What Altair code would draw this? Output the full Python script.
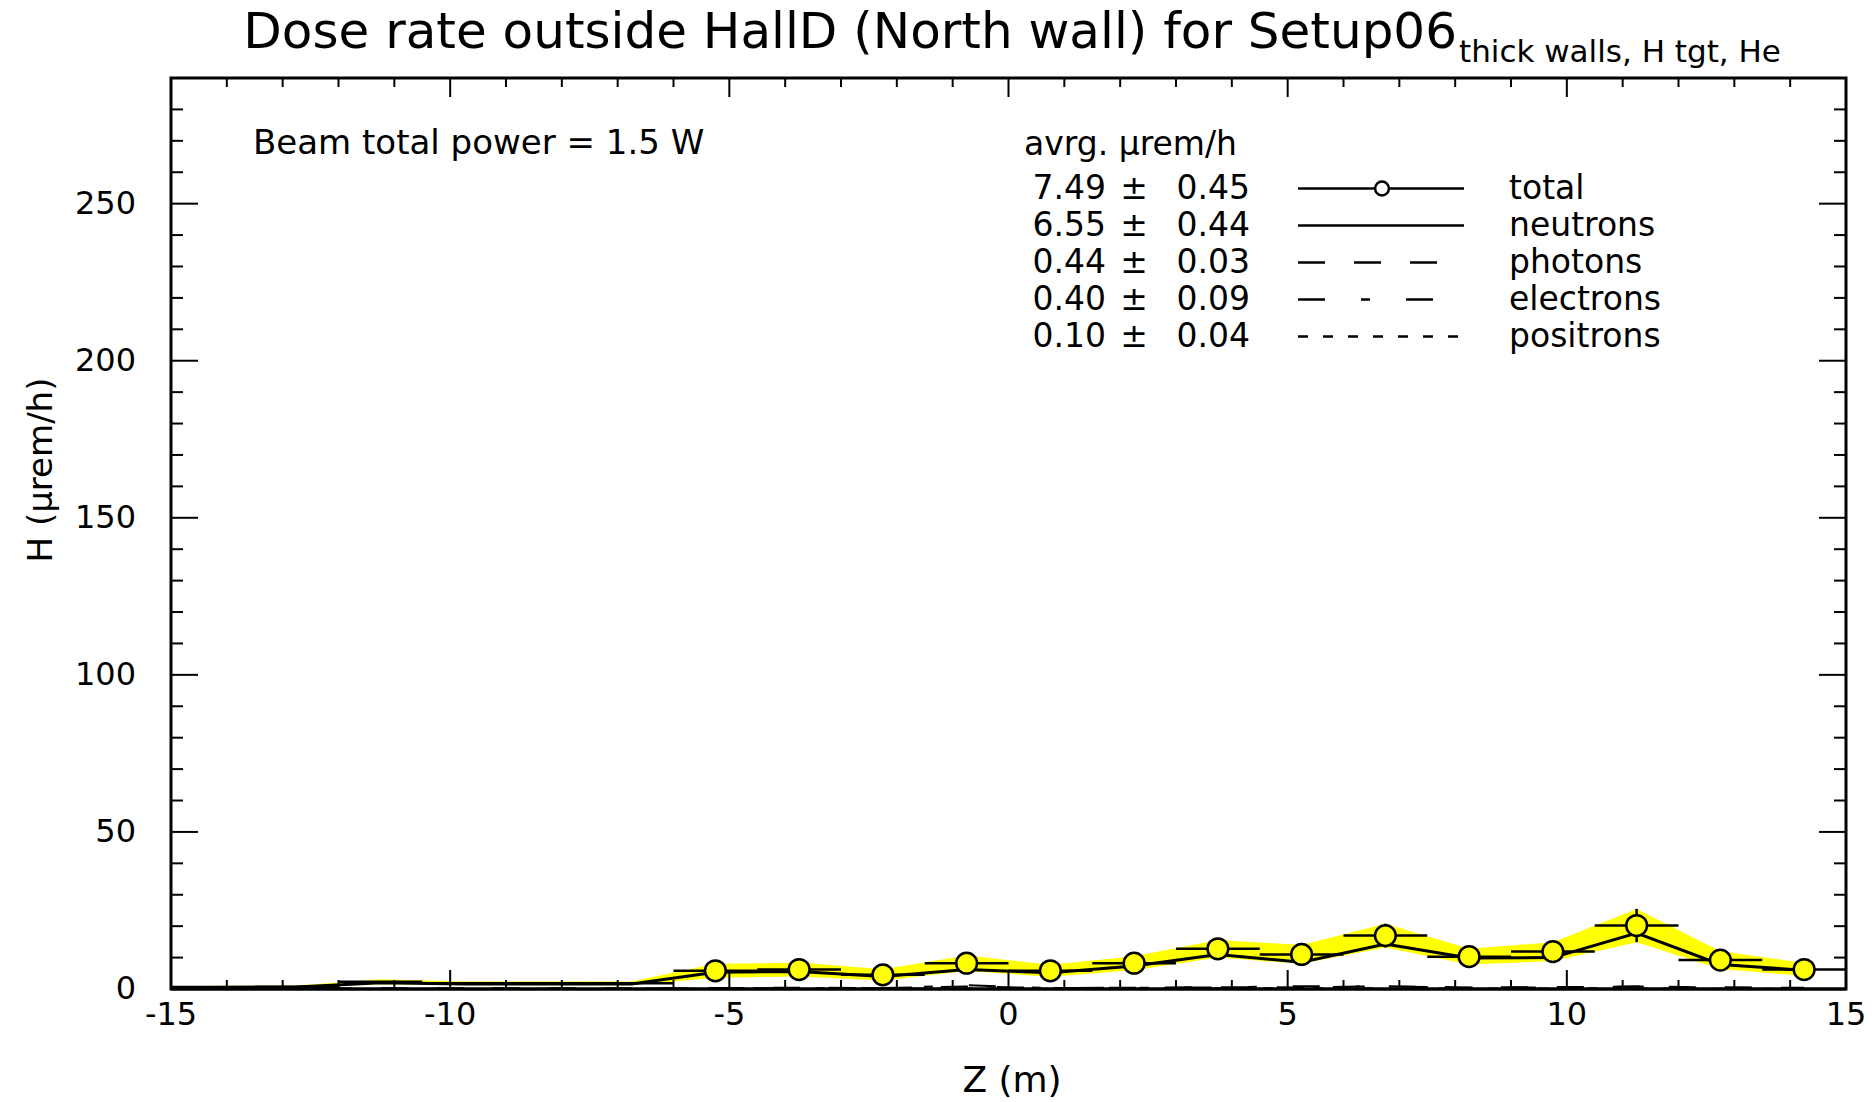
import altair as alt
import pandas as pd

# Bin centres along the beam line (m) and dose rates (µrem/h)
z = [-14.25, -12.75, -11.25, -9.75, -8.25, -6.75, -5.25, -3.75, -2.25, -0.75,
     0.75, 2.25, 3.75, 5.25, 6.75, 8.25, 9.75, 11.25, 12.75, 14.25]
total = [0.6, 0.7, 2.3, 1.8, 1.8, 1.8, 5.8, 6.2, 4.5, 8.2,
         5.8, 8.2, 12.8, 11.0, 17.0, 10.3, 11.9, 20.2, 9.2, 6.2]
total_err = [0.4, 0.4, 0.8, 0.6, 0.6, 0.6, 2.2, 2.2, 1.8, 2.5,
             1.9, 2.2, 2.8, 3.0, 3.8, 2.5, 3.0, 5.3, 2.8, 2.1]
neutrons = [0.5, 0.6, 2.0, 1.6, 1.6, 1.6, 5.3, 5.6, 4.0, 6.2,
            5.2, 7.3, 11.0, 8.5, 14.3, 9.9, 10.0, 17.8, 7.8, 6.0]
photons = [0.1, 0.1, 0.2, 0.2, 0.2, 0.2, 0.3, 0.4, 0.3, 0.8,
           0.3, 0.4, 0.6, 0.5, 0.9, 0.5, 0.6, 0.8, 0.5, 0.4]
electrons = [0.0, 0.0, 0.1, 0.1, 0.1, 0.1, 0.3, 0.2, 0.2, 1.2,
             0.3, 0.4, 0.5, 0.9, 0.8, 0.4, 0.5, 0.8, 0.5, 0.3]
positrons = [0.0, 0.0, 0.0, 0.0, 0.0, 0.0, 0.1, 0.1, 0.1, 0.2,
             0.1, 0.1, 0.2, 0.2, 0.2, 0.1, 0.2, 0.2, 0.1, 0.1]
BIN_HALF = 0.75
MARKER_FROM = 6  # first bin drawn with a marker

legend_names = ["total", "neutrons", "photons", "electrons", "positrons"]
legend_avg = ["7.49", "6.55", "0.44", "0.40", "0.10"]
legend_err = ["0.45", "0.44", "0.03", "0.09", "0.04"]

x_labels = [-15, -10, -5, 0, 5, 10, 15]
y_labels = [0, 50, 100, 150, 200, 250]
x_ticks_major = [-10, -5, 0, 5, 10]
x_ticks_minor = [-14, -13, -12, -11, -9, -8, -7, -6, -4, -3, -2, -1,
                 1, 2, 3, 4, 6, 7, 8, 9, 11, 12, 13, 14]
y_ticks_major = [50, 100, 150, 200, 250]
y_ticks_minor = [10, 20, 30, 40, 60, 70, 80, 90, 110, 120, 130, 140,
                 160, 170, 180, 190, 210, 220, 230, 240, 260, 270, 280]

TITLE = "Dose rate outside HallD (North wall) for Setup06"
SUBTITLE = "thick walls, H tgt, He"
BEAM_NOTE = "Beam total power = 1.5 W"
X_TITLE = "Z (m)"
Y_TITLE = "H (µrem/h)"

# layout (pixels)
W, H = 1675, 911
FONT = "DejaVu Sans"
YELLOW = "#ffff00"

df = pd.DataFrame({
    "z": z, "total": total, "err": total_err, "neutrons": neutrons,
    "photons": photons, "electrons": electrons, "positrons": positrons,
})
df["lo"] = df["total"] - df["err"]
df["hi"] = df["total"] + df["err"]
df["zlo"] = df["z"] - BIN_HALF
df["zhi"] = df["z"] + BIN_HALF

xs = alt.Scale(domain=[-15, 15], nice=False, zero=False)
ys = alt.Scale(domain=[0, 290], nice=False, zero=False)


def X(field):
    return alt.X(field, type="quantitative", scale=xs, axis=None)


def Y(field):
    return alt.Y(field, type="quantitative", scale=ys, axis=None)


base = alt.Chart(df)

band = base.mark_area(color=YELLOW, opacity=1).encode(
    x=X("z"), y=Y("lo"), y2="hi")

dash_styles = {
    "photons": [27, 29],
    "electrons": [27, 36, 9, 36],
    "positrons": [10, 15],
}
small_lines = [
    base.mark_line(color="black", strokeWidth=2, strokeDash=dash)
    .encode(x=X("z"), y=Y(name))
    for name, dash in dash_styles.items()
]

neutron_line = base.mark_line(color="black", strokeWidth=3).encode(
    x=X("z"), y=Y("neutrons"))

h_bars = base.mark_rule(color="black", strokeWidth=2.5).encode(
    x=X("zlo"), x2="zhi", y=Y("total"))
v_bars = alt.Chart(df.iloc[MARKER_FROM:]).mark_rule(
    color="black", strokeWidth=2.5).encode(x=X("z"), y=Y("lo"), y2="hi")
markers = alt.Chart(df.iloc[MARKER_FROM:]).mark_point(
    shape="circle", filled=True, fill=YELLOW, stroke="black",
    strokeWidth=2.5, size=430, opacity=1).encode(x=X("z"), y=Y("total"))


# inward ticks on all four sides
def x_tick_layers(values, length):
    data = alt.Chart(pd.DataFrame({"v": values}))
    bottom = data.mark_rule(color="black", strokeWidth=2).encode(
        x=X("v"), y=alt.value(H), y2=alt.value(H - length))
    top = data.mark_rule(color="black", strokeWidth=2).encode(
        x=X("v"), y=alt.value(0), y2=alt.value(length))
    return [bottom, top]


def y_tick_layers(values, length):
    data = alt.Chart(pd.DataFrame({"v": values}))
    left = data.mark_rule(color="black", strokeWidth=2).encode(
        y=Y("v"), x=alt.value(0), x2=alt.value(length))
    right = data.mark_rule(color="black", strokeWidth=2).encode(
        y=Y("v"), x=alt.value(W), x2=alt.value(W - length))
    return [left, right]


ticks = (x_tick_layers(x_ticks_major, 19) + x_tick_layers(x_ticks_minor, 9)
         + y_tick_layers(y_ticks_major, 27) + y_tick_layers(y_ticks_minor, 12))

# tick labels placed through the data scales (plain hyphen minus)
x_lab_df = pd.DataFrame({"v": x_labels, "s": [str(v) for v in x_labels]})
y_lab_df = pd.DataFrame({"v": y_labels, "s": [str(v) for v in y_labels]})
x_tick_text = alt.Chart(x_lab_df).mark_text(
    font=FONT, fontSize=32, color="black", align="center", baseline="top"
).encode(x=X("v"), y=alt.value(H + 11), text="s:N")
y_tick_text = alt.Chart(y_lab_df).mark_text(
    font=FONT, fontSize=32, color="black", align="right", baseline="middle"
).encode(y=Y("v"), x=alt.value(-35), text="s:N")

one = pd.DataFrame({"k": [0]})
bottom_line = alt.Chart(one).mark_rule(color="black", strokeWidth=3).encode(
    x=alt.value(0), x2=alt.value(W), y=alt.value(H))


def label(text, x, y, size=33, align="left", baseline="middle", angle=0):
    return alt.Chart(pd.DataFrame({"t": [text]})).mark_text(
        font=FONT, fontSize=size, color="black", align=align,
        baseline=baseline, angle=angle).encode(
        x=alt.value(x), y=alt.value(y), text="t:N")


texts = [
    label(TITLE, 1286, -30, size=50, align="right", baseline="alphabetic"),
    label(SUBTITLE, 1288, -16, size=31, baseline="alphabetic"),
    label(BEAM_NOTE, 82, 66, size=34),
    label("avrg. µrem/h", 853, 67),
    label(X_TITLE, 841, H + 92, size=36, align="center"),
    label(Y_TITLE, -129, 392, size=34, align="center", angle=270),
]

# legend block
ROW0, ROW_STEP = 110.5, 37
legend_layers = []
legend_dashes = [None, None, dash_styles["photons"], dash_styles["electrons"],
                 dash_styles["positrons"]]
for i, (name, avg, err) in enumerate(zip(legend_names, legend_avg, legend_err)):
    ry = ROW0 + ROW_STEP * i
    legend_layers += [
        label(avg, 935, ry, align="right"),
        label("±", 963, ry, align="center"),
        label(err, 1079, ry, align="right"),
        label(name, 1338, ry),
    ]
    rule_kw = dict(color="black", strokeWidth=2.5)
    if legend_dashes[i] is not None:
        rule_kw["strokeDash"] = legend_dashes[i]
    legend_layers.append(
        alt.Chart(one).mark_rule(**rule_kw).encode(
            x=alt.value(1127), x2=alt.value(1293), y=alt.value(ry)))
    if name == "total":
        legend_layers.append(
            alt.Chart(one).mark_point(
                shape="circle", filled=True, fill="white", stroke="black",
                strokeWidth=2.5, size=190, opacity=1).encode(
                x=alt.value(1211), y=alt.value(ry)))

chart = alt.layer(
    band, *small_lines, neutron_line, h_bars, v_bars, markers,
    *ticks, bottom_line, x_tick_text, y_tick_text, *texts, *legend_layers,
).properties(
    width=W, height=H,
    autosize=alt.AutoSizeParams(type="none"),
    padding={"left": 171, "top": 78, "right": 26, "bottom": 113},
    background="white",
).configure_view(stroke="black", strokeWidth=3)

chart.save("out.html", embed_options={"renderer": "svg", "actions": False})
